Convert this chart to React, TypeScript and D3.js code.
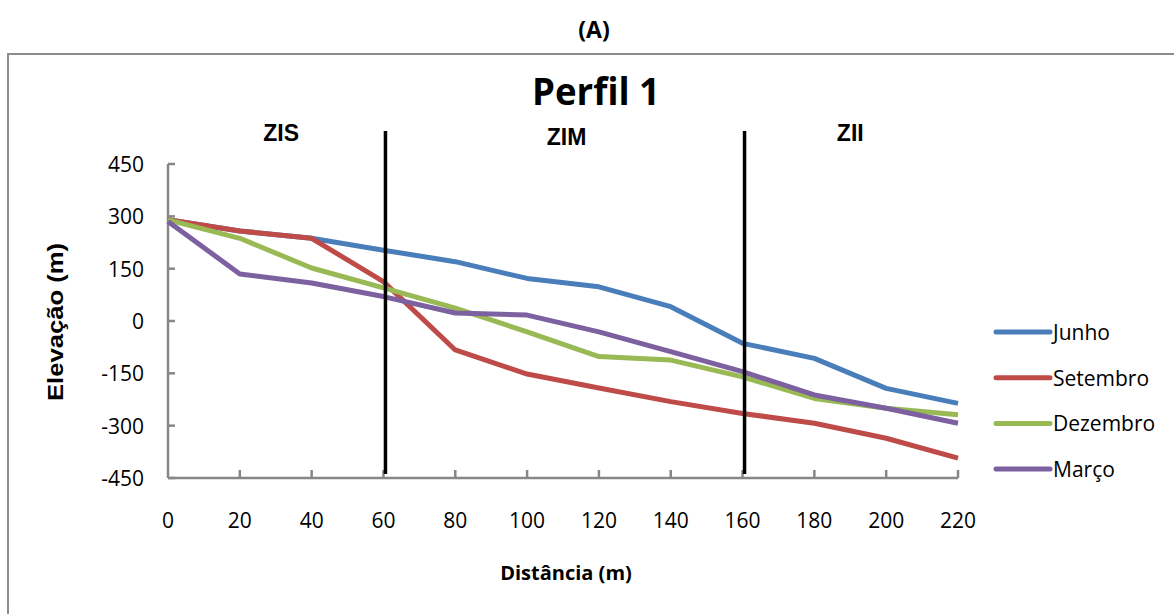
import React from "react";
import * as d3 from "d3";

const distances = [0, 20, 40, 60, 80, 100, 120, 140, 160, 180, 200, 220];
const junho = [290, 258, 237, 203, 170, 122, 98, 41, -64, -107, -193, -236];
const setembro = [290, 258, 237, 113, -83, -152, -192, -231, -265, -293, -336, -393];
const dezembro = [290, 237, 152, 95, 37, -31, -102, -112, -160, -222, -250, -269];
const marco = [285, 135, 109, 70, 23, 17, -31, -88, -145, -212, -250, -293];
const yTicks = [450, 300, 150, 0, -150, -300, -450];
const xTicks = [0, 20, 40, 60, 80, 100, 120, 140, 160, 180, 200, 220];
const zoneBounds = [60, 160];
const zones = [
  { label: "ZIS", x: 31.5 },
  { label: "ZIM", x: 111 },
  { label: "ZII", x: 190 },
];

const seriesList = [
  { name: "Junho", values: junho, color: "#4a7ebb" },
  { name: "Setembro", values: setembro, color: "#be4b48" },
  { name: "Dezembro", values: dezembro, color: "#98b954" },
  { name: "Março", values: marco, color: "#7d60a0" },
];

export default function App() {
  const W = 1174;
  const H = 614;
  const x = d3.scaleLinear().domain([0, 220]).range([168, 958]);
  const y = d3.scaleLinear().domain([-450, 450]).range([478, 164]);
  const line = d3
    .line<[number, number]>()
    .x((d) => x(d[0]))
    .y((d) => y(d[1]));
  const font = "'Open Sans', sans-serif";
  const arial = "'Liberation Sans', Arial, sans-serif";
  const axisColor = "#878787";

  return (
    <svg
      width={W}
      height={H}
      style={{ position: "absolute", left: 0, top: 0, background: "#fff" }}
    >
      <text x={594} y={38} textAnchor="middle" fontFamily={font} fontWeight="bold" fontSize={23} fill="#000">
        (A)
      </text>
      {/* outer frame */}
      <rect x={8} y={54} width={W + 20} height={H} fill="none" stroke="#8c8c8c" strokeWidth={2} />
      <text x={596} y={105} textAnchor="middle" fontFamily={font} fontWeight="bold" fontSize={38}
        fill="#000" textLength={128} lengthAdjust="spacingAndGlyphs">
        Perfil 1
      </text>
      {zones.map((z) => (
        <text key={z.label} x={x(z.x)} y={z.label === "ZIM" ? 145 : 141} textAnchor="middle"
          fontFamily={arial} fontWeight="bold" fontSize={23} fill="#000">
          {z.label}
        </text>
      ))}
      {/* axes */}
      <line x1={x(0)} x2={x(0)} y1={y(450)} y2={y(-450)} stroke={axisColor} strokeWidth={2.5} />
      <line x1={x(0)} x2={x(220)} y1={y(-450)} y2={y(-450)} stroke={axisColor} strokeWidth={2.5} />
      {yTicks.map((t) => (
        <g key={"y" + t}>
          <line x1={x(0)} x2={x(0) + 7} y1={y(t)} y2={y(t)} stroke={axisColor} strokeWidth={2.5} />
          <text x={144} y={y(t) + 8} textAnchor="end" fontFamily={font} fontSize={21} fill="#000">
            {t}
          </text>
        </g>
      ))}
      {xTicks.map((t) => (
        <g key={"x" + t}>
          {t > 0 && (
            <line x1={x(t)} x2={x(t)} y1={y(-450)} y2={y(-450) - 8} stroke={axisColor} strokeWidth={2.5} />
          )}
          <text x={x(t)} y={528} textAnchor="middle" fontFamily={font} fontSize={21} fill="#000">
            {t}
          </text>
        </g>
      ))}
      <text x={566} y={580} textAnchor="middle" fontFamily={font} fontWeight="bold" fontSize={20} fill="#000">
        Distância (m)
      </text>
      <text transform={`translate(63,322) rotate(-90)`} textAnchor="middle" fontFamily={arial}
        fontWeight="bold" fontSize={22} fill="#000" textLength={158} lengthAdjust="spacingAndGlyphs">
        Elevação (m)
      </text>
      {/* series */}
      {seriesList.map((s) => (
        <path key={s.name}
          d={line(distances.map((d, i) => [d, s.values[i]] as [number, number])) || ""}
          fill="none" stroke={s.color} strokeWidth={5} strokeLinejoin="round" />
      ))}
      {/* zone boundaries */}
      {zoneBounds.map((b) => (
        <line key={"b" + b} x1={x(b) + 2} x2={x(b) + 2} y1={131} y2={474} stroke="#000" strokeWidth={3.5} />
      ))}
      {/* legend */}
      {seriesList.map((s, i) => (
        <g key={"lg" + s.name}>
          <line x1={996} x2={1050} y1={332 + i * 45.7} y2={332 + i * 45.7} stroke={s.color} strokeWidth={5} strokeLinecap="round" />
          <text x={1053} y={332 + i * 45.7 + 8} fontFamily={font} fontSize={21} fill="#000">
            {s.name}
          </text>
        </g>
      ))}
    </svg>
  );
}
